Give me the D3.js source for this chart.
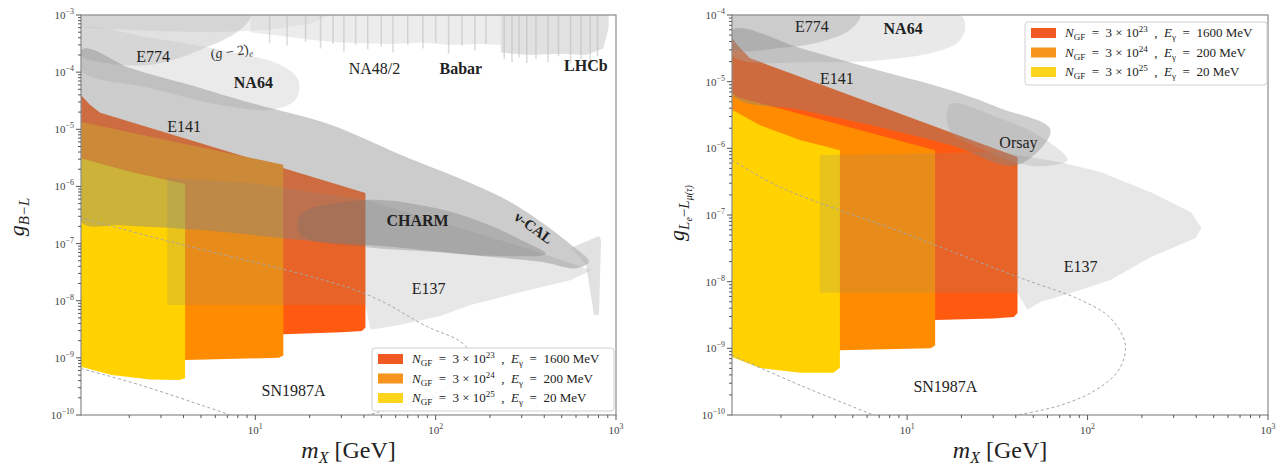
<!DOCTYPE html>
<html lang="en">
<head>
<meta charset="UTF-8">
<title>GF sensitivity to B-L and Le-Lmu gauge bosons</title>
<script src="https://d3js.org/d3.v7.min.js"></script>
<style>
  body { margin: 0; background: #fff; }
  svg { display: block; font-family: "Liberation Serif", "DejaVu Serif", serif; }
  .pre { white-space: pre; }
</style>
</head>
<body>
<svg id="chart" width="1287" height="472"></svg>
<script>
// ---- data: [mass in GeV, coupling] ----
// projected reach, B-L panel
const redBL    = [[1.08,4.0e-5],[1.21,2.7e-5],[1.38,1.94e-5],[40.8,7.7e-7],[40.8,3.4e-9],[39,2.95e-9],[30,2.8e-9],[14.3,2.6e-9],[1.08,2.6e-9]];
const orangeBL = [[1.08,1.34e-5],[14.3,2.4e-6],[14.3,1.1e-9],[13.5,1.0e-9],[4.08,9.2e-10],[1.08,9.2e-10]];
const yellowBL = [[1.08,3.1e-6],[2.02,1.8e-6],[4.08,1.1e-6],[4.08,4.4e-10],[3.8,4.1e-10],[2.61,4.2e-10],[1.6,5.0e-10],[1.08,7.0e-10]];
// existing limits, B-L panel
const g2eBL   = [[1.08,1e-3],[26,1e-3],[20,7e-4],[12,5.5e-4],[6,5e-4],[3,5.2e-4],[1.08,6e-4]];
const e774BL  = [[1.08,1e-3],[9.4,1e-3],[8.25,5.5e-4],[4.95,2.45e-4],[2.61,1.34e-4],[1.38,1.5e-4],[1.08,2.0e-4]];
const na64BL  = [[1.08,5.5e-4],[2.61,4.0e-4],[7.26,2.26e-4],[13.8,1.34e-4],[17.3,7.3e-5],[16.7,3.3e-5],[12.1,2.2e-5],[6.4,2.67e-5],[2.61,5.3e-5],[1.08,1.09e-4]];
const na48BL  = [[9.4,1e-3],[9.4,5.0e-4],[14.7,4.2e-4],[21.5,3.6e-4],[29.6,3.3e-4],[40.8,3.2e-4],[56.2,3.1e-4],[82.5,3.3e-4],[121,3.0e-4],[178,3.1e-4],[230,3.0e-4],[230,1e-3]];
const lhcbBL  = [[230,1e-3],[230,2.2e-4],[337,2.0e-4],[495,2.1e-4],[683,2.0e-4],[850,2.6e-4],[910,6.0e-4],[910,1e-3]];
const streaksBL = [[12,3.2e-4],[15,2.9e-4],[19,3.4e-4],[23,2.6e-4],[27,3.1e-4],[31,2.3e-4],[36,3.0e-4],[42,2.5e-4],[50,2.8e-4],[58,2.2e-4],[70,3.0e-4],
  [85,2.6e-4],[100,3.3e-4],[118,2.1e-4],[140,2.9e-4],[165,2.4e-4],[190,3.1e-4],[240,1.7e-4],[265,1.5e-4],[290,1.8e-4],[320,1.45e-4],[360,1.7e-4],
  [420,1.5e-4],[480,1.9e-4],[560,1.4e-4],[640,1.7e-4],[720,1.5e-4],[790,1.9e-4]];
const e141BL  = [[1.08,2.45e-4],[2.02,1.18e-4],[4.95,5.3e-5],[9.4,2.9e-5],[26.1,1.2e-5],[64,3.6e-6],[156,1.15e-6],[261,5.3e-7],[408,2.1e-7],[563,9.5e-8],[708,4.8e-8],
  [600,3.7e-8],[383,4.8e-8],[178,6.05e-8],[82.5,7.8e-8],[40.8,9.5e-8],[17.8,1.16e-7],[4.95,1.74e-7],[1.78,2.1e-7],[1.08,2.4e-7]];
const charmBL = [[17.8,3.2e-7],[40.8,5.8e-7],[93.8,4.36e-7],[178,2.4e-7],[298,1.16e-7],[408,6.6e-8],[230,6.05e-8],[93.8,7.2e-8],[40.8,8.7e-8],[17.8,1.41e-7]];
const funnelBL = [[563,8.4e-8],[805,1.36e-7],[826,1.16e-7],[805,5.6e-9],[755,5.6e-9],[683,4.2e-8]];
const e137BL  = [[3.25,1.4e-6],[9.4,1.15e-6],[40.8,5.8e-7],[121,2.1e-7],[337,7.8e-8],[600,4.2e-8],[728,3.4e-8],[563,2.3e-8],[298,1.42e-8],[156,8.4e-9],[106,5.4e-9],[64,3.8e-9],[43.6,3.1e-9],[40.8,8.4e-9],[3.25,8.4e-9]];
const snUpperBL = [[1.08,2.8e-7],[3.08,1.16e-7],[39.8,1.36e-8],[90,3.5e-9],[138,1.9e-9],[156,1.12e-9],[147,5.0e-10],[93.8,2.2e-10],[41.9,1e-10]];
const snLowerBL = [[1.08,6.5e-10],[2.3,3.35e-10],[7.26,1e-10]];

// projected reach, Le-Lmu(tau) panel
const redLe    = [[1.07,4.5e-5],[1.14,3.6e-5],[1.34,2.26e-5],[40.9,7.4e-7],[40.9,3.4e-9],[39,2.95e-9],[30,2.8e-9],[14.3,2.66e-9],[1.07,2.66e-9]];
const orangeLe = [[1.07,7e-6],[1.14,5.9e-6],[14.3,9.4e-7],[14.3,1.1e-9],[13.5,1.0e-9],[4.24,9.4e-10],[1.07,9.4e-10]];
const yellowLe = [[1.07,3.8e-6],[1.52,2.24e-6],[2.55,1.33e-6],[4.24,9.4e-7],[4.24,5.1e-10],[3.9,4.3e-10],[2.55,4.3e-10],[1.52,5.1e-10],[1.07,7.4e-10]];
// existing limits, Le-Lmu(tau) panel
const e774Le  = [[1.07,1e-4],[5.48,1e-4],[4.82,5.96e-5],[3.28,3.94e-5],[1.97,3.2e-5],[1.07,3.2e-5]];
const na64Le  = [[1.07,1e-4],[19.7,1e-4],[21.0,6.38e-5],[19.2,3.94e-5],[14.3,2.79e-5],[7.08,2.1e-5],[3.28,1.97e-5],[1.07,2.5e-5]];
const e141Le  = [[1.07,5.96e-5],[2.55,3.2e-5],[6.23,1.6e-5],[17.3,7.5e-6],[32.8,4.0e-6],[62.3,1.88e-6],[40.9,5.6e-7],[17.3,1.12e-6],[6.23,2.24e-6],[2.55,3.8e-6],[1.07,6.3e-6]];
const orsayLe = [[17.3,4.6e-6],[32.8,2.8e-6],[54.9,1.5e-6],[77.4,6.7e-7],[54.9,5.4e-7],[40.9,6.0e-7],[25.5,1.0e-6],[17.3,1.8e-6]];
const e137Le  = [[3.28,7.9e-7],[32.8,8.8e-7],[70.8,6.2e-7],[118,4.4e-7],[224,2.2e-7],[374,1.1e-7],[428,6.4e-8],[398,4.5e-8],[224,2.34e-8],[134,1.06e-8],[91.5,7.5e-9],[54.9,4.95e-9],[46.4,3.8e-9],[40.9,6.8e-9],[3.28,6.8e-9]];
const snUpperLe = [[1.07,6.7e-7],[1.97,2.63e-7],[9.2,5.6e-8],[40.9,1.18e-8],[91.5,5.3e-9],[134,2.84e-9],[162,1.12e-9],[148.6,4.7e-10],[111,2.37e-10],[70.8,1.4e-10],[40.9,1e-10]];
const snLowerLe = [[1.07,7.9e-10],[2.55,2.8e-10],[6.5,1e-10]];

// legend entries: N_GF exponent, E_gamma in MeV
const legendExp = ["23", "24", "25"];
const legendE = ["1600", "200", "20"];

// tick labels
const xTickExp = [1, 2, 3];
const yTickExpBL = [-3, -4, -5, -6, -7, -8, -9, -10];
const yTickExpLe = [-4, -5, -6, -7, -8, -9, -10];

// region labels [text, mass, coupling, bold]
const labelsBL = [["E774", 2.71, 1.77e-4], ["NA64", 9.75, 6.2e-5, true], ["NA48/2", 45.8, 1.09e-4], ["Babar", 138, 1.09e-4, true],
  ["LHCb", 681, 1.23e-4, true], ["E141", 4.03, 1.05e-5], ["CHARM", 79.4, 2.38e-7, true], ["E137", 91.4, 1.54e-8], ["SN1987A", 16.3, 2.5e-10]];
const labelsLe = [["E774", 2.97, 6.4e-5], ["NA64", 9.5, 5.96e-5, true], ["E141", 4.08, 1.06e-5], ["Orsay", 41.4, 1.16e-6],
  ["E137", 91.4, 1.6e-8], ["SN1987A", 16.3, 2.54e-10]];

// ---- drawing ----
const svg = d3.select("#chart");
const bandColors = ["#ff5a0f", "#ff8c00", "#ffd200"];
const legendColors = ["#f05a22", "#f7941d", "#ffd41c"];

const panels = [
  {
    id: "bl",
    x: d3.scaleLog().domain([1.08, 1000]).range([81, 616]),
    y: d3.scaleLog().domain([1e-10, 1e-3]).range([415, 15]),
    bands: [redBL, orangeBL, yellowBL],
    grays: [
      [g2eBL, "#c4c4c4", 0.3, false], [e774BL, "#a8a8a8", 0.35, true], [na64BL, "#c4c4c4", 0.35, true],
      [na48BL, "#d4d4d4", 0.45, false], [lhcbBL, "#bdbdbd", 0.45, false],
      [e141BL, "#858585", 0.42, true], [charmBL, "#6e6e6e", 0.3, true],
      [funnelBL, "#b4b4b4", 0.4, false], [e137BL, "#888888", 0.2, false]
    ],
    streaks: streaksBL,
    sn: [snUpperBL, snLowerBL],
    ticks: yTickExpBL,
    labels: labelsBL,
    legend: { x: 372, y: 348 }
  },
  {
    id: "le",
    x: d3.scaleLog().domain([1.07, 1000]).range([732, 1268]),
    y: d3.scaleLog().domain([1e-10, 1e-4]).range([415, 15]),
    bands: [redLe, orangeLe, yellowLe],
    grays: [
      [na64Le, "#c0c0c0", 0.35, true], [e774Le, "#8a8a8a", 0.3, true],
      [e141Le, "#858585", 0.4, true], [orsayLe, "#9a9a9a", 0.25, true], [e137Le, "#888888", 0.2, false]
    ],
    streaks: [],
    sn: [snUpperLe, snLowerLe],
    ticks: yTickExpLe,
    labels: labelsLe,
    legend: { x: 1025, y: 22 }
  }
];

function supText(sel, base, exp, size) {
  sel.append("tspan").text(base);
  sel.append("tspan").attr("dy", -size * 0.45).attr("font-size", size * 0.72).text(exp);
}

panels.forEach(p => {
  const [x0, x1] = p.x.range();
  const [yb, yt] = p.y.range();
  const line = d3.line().x(d => p.x(d[0])).y(d => p.y(d[1]));
  const smooth = d3.line().x(d => p.x(d[0])).y(d => p.y(d[1])).curve(d3.curveCatmullRomClosed.alpha(0.5));

  svg.append("clipPath").attr("id", "clip-" + p.id)
    .append("rect").attr("x", x0).attr("y", yt).attr("width", x1 - x0).attr("height", yb - yt);
  const plot = svg.append("g").attr("clip-path", `url(#clip-${p.id})`);

  p.bands.forEach((b, i) => plot.append("path").attr("d", line(b) + "Z").attr("fill", bandColors[i]));
  p.grays.forEach(([pts, fill, op, sm]) =>
    plot.append("path").attr("d", sm ? smooth(pts) : line(pts) + "Z").attr("fill", fill).attr("fill-opacity", op));
  p.streaks.forEach(([m, c]) =>
    plot.append("line").attr("x1", p.x(m)).attr("x2", p.x(m)).attr("y1", yt).attr("y2", p.y(c))
      .attr("stroke", "#bcbcbc").attr("stroke-width", 1.5).attr("stroke-opacity", 0.55));

  const snLine = d3.line().x(d => p.x(d[0])).y(d => p.y(d[1])).curve(d3.curveCatmullRom);
  p.sn.forEach(s => plot.append("path").attr("d", snLine(s))
    .attr("fill", "none").attr("stroke", "#a8a8a8").attr("stroke-width", 1).attr("stroke-dasharray", "3,2.5"));

  // region labels
  p.labels.forEach(([t, m, c, bold]) => {
    plot.append("text").attr("x", p.x(m)).attr("y", p.y(c))
      .attr("text-anchor", "middle").attr("dominant-baseline", "middle")
      .attr("font-size", 16).attr("font-weight", bold ? "bold" : "normal").attr("fill", "#222").text(t);
  });

  // frame
  svg.append("rect").attr("x", x0).attr("y", yt).attr("width", x1 - x0).attr("height", yb - yt)
    .attr("fill", "none").attr("stroke", "#8a8a8a").attr("stroke-width", 1.2);

  // x ticks
  const ax = svg.append("g").attr("stroke", "#555");
  const xd = p.x.domain();
  for (let e = 0; e <= 3; e++) {
    for (let k = 1; k <= 9; k++) {
      const v = k * Math.pow(10, e);
      if (v < xd[0] || v > xd[1] * 1.0001) continue;
      const len = k === 1 ? 5 : 3;
      ax.append("line").attr("x1", p.x(v)).attr("x2", p.x(v)).attr("y1", yb).attr("y2", yb + len);
    }
  }
  xTickExp.forEach(e => {
    const t = svg.append("text").attr("x", p.x(Math.pow(10, e))).attr("y", 434)
      .attr("text-anchor", "middle").attr("font-size", 11).attr("fill", "#444");
    supText(t, "10", String(e), 11);
  });
  // y ticks
  const yd = p.y.domain();
  for (let e = -10; e <= -3; e++) {
    for (let k = 1; k <= 9; k++) {
      const v = k * Math.pow(10, e);
      if (v < yd[0] * 0.9999 || v > yd[1] * 1.0001) continue;
      const len = k === 1 ? 5 : 3;
      ax.append("line").attr("x1", x0).attr("x2", x0 - len).attr("y1", p.y(v)).attr("y2", p.y(v));
    }
  }
  p.ticks.forEach(e => {
    const t = svg.append("text").attr("x", x0 - 7).attr("y", p.y(Math.pow(10, e)) + 4)
      .attr("text-anchor", "end").attr("font-size", 11).attr("fill", "#444");
    supText(t, "10", "\u2212" + Math.abs(e), 11);
  });

  // x label
  const xl = svg.append("text").attr("x", (x0 + x1) / 2).attr("y", 458)
    .attr("text-anchor", "middle").attr("font-size", 24).attr("fill", "#222");
  xl.append("tspan").attr("font-style", "italic").text("m");
  xl.append("tspan").attr("font-style", "italic").attr("font-size", 16).attr("dy", 5).text("X");
  xl.append("tspan").attr("dy", -5).text(" [GeV]");

  // legend
  const lg = svg.append("g").attr("transform", `translate(${p.legend.x},${p.legend.y})`);
  lg.append("rect").attr("width", 242).attr("height", 63).attr("rx", 3)
    .attr("fill", "#fff").attr("fill-opacity", 0.85).attr("stroke", "#d0d0d0");
  legendExp.forEach((ex, i) => {
    const yy = 11 + i * 19.5;
    lg.append("rect").attr("x", 6).attr("y", yy - 5).attr("width", 25).attr("height", 10).attr("fill", legendColors[i]);
    const t = lg.append("text").attr("class", "pre").attr("x", 40).attr("y", yy + 4).attr("font-size", 13).attr("fill", "#222");
    t.append("tspan").attr("font-style", "italic").text("N");
    t.append("tspan").attr("font-size", 9).attr("dy", 3).text("GF");
    t.append("tspan").attr("dy", -3).text("  =  3 \u00d7 10");
    t.append("tspan").attr("font-size", 9).attr("dy", -5).text(ex);
    t.append("tspan").attr("dy", 5).text("  ,  ");
    t.append("tspan").attr("font-style", "italic").text("E");
    t.append("tspan").attr("font-size", 9).attr("dy", 3).text("\u03b3");
    t.append("tspan").attr("dy", -3).text("  =  " + legendE[i] + " MeV");
  });
});

// special labels in the B-L panel
{
  const p = panels[0];
  const g2 = svg.append("text").attr("transform", `translate(${p.x(7.45)},${p.y(1.91e-4)}) rotate(-8)`)
    .attr("text-anchor", "middle").attr("font-size", 14).attr("fill", "#333");
  g2.append("tspan").text("(");
  g2.append("tspan").attr("font-style", "italic").text("g");
  g2.append("tspan").text(" \u2212 2)");
  g2.append("tspan").attr("font-size", 9).attr("dy", 3).attr("font-style", "italic").text("e");
  svg.append("text").attr("transform", `translate(${p.x(346)},${p.y(1.8e-7)}) rotate(36)`)
    .attr("text-anchor", "middle").attr("dominant-baseline", "middle")
    .attr("font-size", 15).attr("font-weight", "bold").attr("fill", "#222").text("\u03bd-CAL");
}

// y axis titles
const yl1 = svg.append("text").attr("transform", "translate(24,217) rotate(-90)")
  .attr("text-anchor", "middle").attr("font-size", 22).attr("fill", "#222");
yl1.append("tspan").attr("font-style", "italic").text("g");
yl1.append("tspan").attr("font-style", "italic").attr("font-size", 15).attr("dy", 5).text("B\u2212L");

const yl2 = svg.append("text").attr("transform", "translate(684,213) rotate(-90)")
  .attr("text-anchor", "middle").attr("font-size", 22).attr("fill", "#222");
yl2.append("tspan").attr("font-style", "italic").text("g");
yl2.append("tspan").attr("font-style", "italic").attr("font-size", 15).attr("dy", 5).text("L");
yl2.append("tspan").attr("font-style", "italic").attr("font-size", 10).attr("dy", 3).text("e");
yl2.append("tspan").attr("font-size", 15).attr("dy", -3).text("\u2212");
yl2.append("tspan").attr("font-style", "italic").attr("font-size", 15).text("L");
yl2.append("tspan").attr("font-style", "italic").attr("font-size", 10).attr("dy", 3).text("\u03bc(\u03c4)");
</script>
</body>
</html>
